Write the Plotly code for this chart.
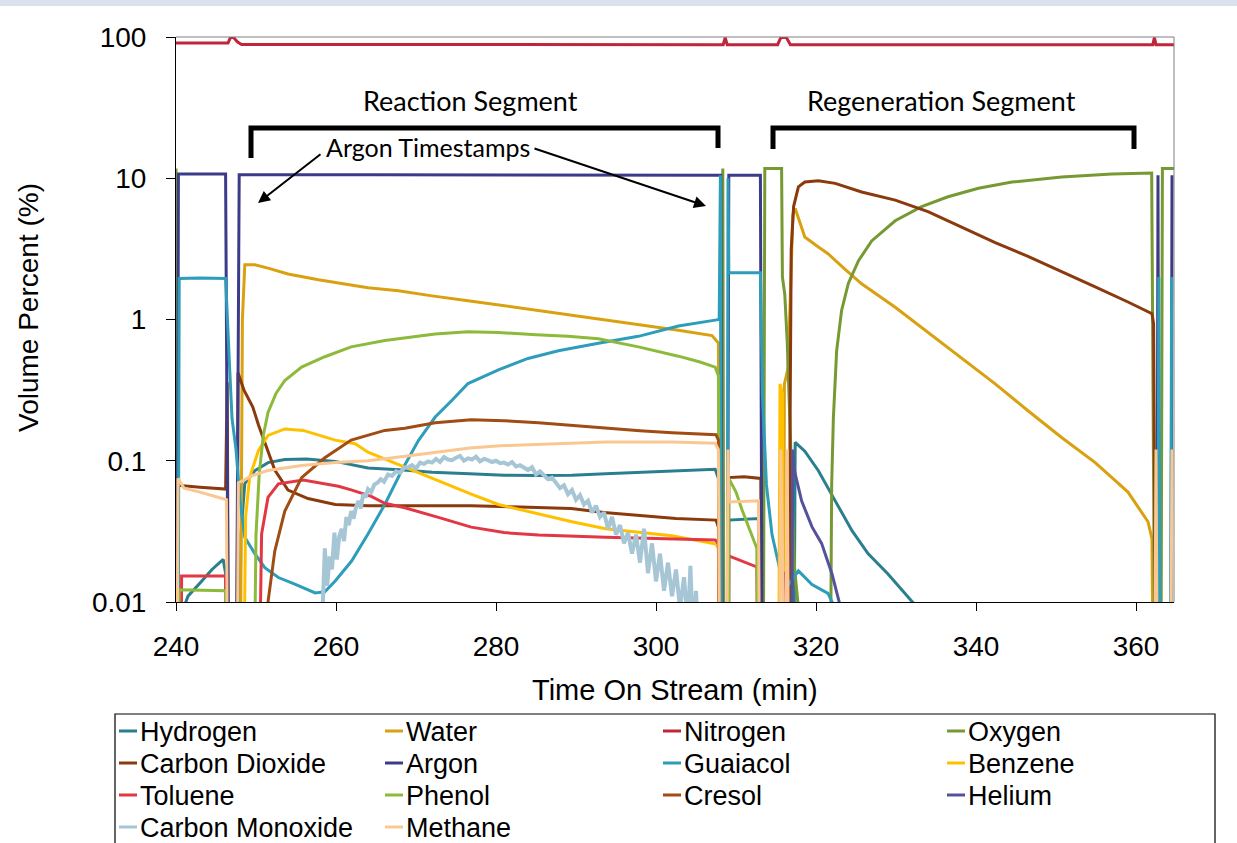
import plotly.graph_objects as go

# ---------------- data ----------------
t_hydrogen = [240.6, 241.5, 243.2, 244.5, 245.9, 246.2, 246.4, 247.9, 248.1, 248.6, 249.85, 251.5, 253.6, 256.3,
              259.9, 264.0, 268.4, 272.0, 276.7, 281.0, 285.3, 289.5, 293.7, 298.0, 302.0, 307.4, 307.8, 308.0,
              309.05, 309.1, 312.8, 313.0, 317.2, 317.4, 318.6, 320.3, 322.4, 324.5, 326.5, 329.0, 332.4]
v_hydrogen = [0.008, 0.011, 0.014, 0.017, 0.020, 0.016, 0.001, 0.001, 0.03, 0.069, 0.085, 0.097, 0.102, 0.103,
              0.099, 0.089, 0.086, 0.083, 0.081, 0.079, 0.0785, 0.079, 0.081, 0.083, 0.085, 0.087, 0.075, 0.001,
              0.001, 0.038, 0.039, 0.001, 0.001, 0.135, 0.117, 0.085, 0.052, 0.032, 0.022, 0.0158, 0.0095]

t_water = [248.0, 248.3, 248.6, 249.85, 251.5, 254.0, 257.8, 264.0, 267.8, 272.0, 276.5, 280.3, 284.0, 287.8,
           292.8, 297.8, 302.8, 307.0, 307.8, 308.0, 315.9, 316.05, 316.5, 316.8, 317.1, 317.4, 318.6, 320.3,
           321.5, 323.5, 325.7, 329.9, 334.0, 338.2, 342.4, 346.5, 350.7, 354.9, 359.0, 361.5, 362.0, 362.2]
v_water = [0.001, 1.0, 2.44, 2.44, 2.31, 2.1, 1.91, 1.68, 1.6, 1.47, 1.36, 1.27, 1.19, 1.11,
           1.01, 0.92, 0.84, 0.77, 0.68, 0.001, 0.001, 0.35, 0.45, 1.5, 5.5, 6.1, 3.84, 3.26,
           2.92, 2.3, 1.79, 1.22, 0.81, 0.54, 0.35, 0.226, 0.146, 0.097, 0.06, 0.037, 0.028, 0.001]

t_nitrogen = [240.0, 246.5, 246.8, 247.2, 247.7, 248.2, 308.4, 308.65, 308.9, 315.2, 315.6, 316.3, 316.8,
              362.1, 362.3, 362.5, 364.75]
v_nitrogen = [90.5, 90.5, 99, 99, 92, 88.5, 88.3, 99, 88.3, 88.3, 99, 99, 88.3,
              88.3, 99, 88.3, 88.3]

t_oxygen = [240.0, 240.2, 308.2, 308.35, 308.5, 313.4, 313.6, 315.7, 315.8, 316.1, 316.4, 316.9, 317.3, 317.8,
            321.75, 321.96, 322.17, 322.58, 323.2, 324.04, 325.3, 326.96, 329.9, 333.2, 336.5, 340.3, 344.5,
            350.7, 357.0, 361.96, 362.4, 363.1, 363.3, 364.75]
v_oxygen = [11.7, 0.001, 0.001, 11.7, 0.001, 0.001, 11.7, 11.7, 2.0, 1.5, 0.7, 0.1, 0.018, 0.009,
            0.001, 0.068, 0.2, 0.6, 1.16, 1.8, 2.6, 3.6, 5.0, 6.3, 7.4, 8.5, 9.4,
            10.2, 10.7, 10.9, 0.001, 0.001, 11.7, 11.7]

t_co2 = [240.15, 240.3, 243.0, 246.2, 246.4, 246.6, 247.6, 247.75, 248.5, 249.6, 250.3, 251.1, 252.35, 254.0,
         256.5, 259.9, 264.0, 270.0, 276.9, 283.0, 289.4, 293.5, 297.8, 302.5, 307.5, 307.8, 308.0, 309.05,
         309.1, 311.0, 313.1, 313.2, 316.7, 316.75, 316.9, 317.2, 317.8, 318.6, 320.3, 322.4, 325.7, 329.9,
         334.0, 338.2, 342.4, 346.5, 350.7, 354.9, 359.0, 362.0, 362.2, 362.5]
v_co2 = [0.001, 0.067, 0.065, 0.063, 0.36, 0.001, 0.001, 0.42, 0.316, 0.24, 0.18, 0.133, 0.086, 0.062,
         0.054, 0.049, 0.048, 0.048, 0.048, 0.047, 0.046, 0.043, 0.041, 0.039, 0.038, 0.034, 0.001, 0.001,
         0.076, 0.077, 0.075, 0.001, 0.001, 0.15, 3.1, 6.3, 8.7, 9.4, 9.6, 9.2, 8.0, 7.0,
         5.8, 4.5, 3.5, 2.8, 2.17, 1.7, 1.33, 1.1, 0.93, 0.001]

t_argon = [240.15, 240.3, 246.2, 246.6, 247.5, 247.9, 265.0, 285.0, 308.1, 308.3, 308.9, 309.1, 313.05, 313.3,
           362.6, 362.75, 362.9, 364.35, 364.5]
v_argon = [0.001, 10.7, 10.7, 0.001, 0.001, 10.6, 10.6, 10.6, 10.5, 0.001, 0.001, 10.5, 10.5, 0.001,
           0.001, 10.5, 0.001, 0.001, 10.5]

t_guaiacol = [240.25, 240.4, 243.0, 246.2, 246.7, 247.0, 247.5, 248.0, 248.6, 249.85, 251.1, 252.8, 254.85,
              257.4, 258.6, 259.9, 261.95, 264.0, 266.1, 268.2, 270.3, 272.4, 274.5, 276.5, 280.3, 284.0,
              287.8, 292.8, 297.8, 302.8, 307.4, 307.9, 308.05, 308.2, 308.9, 309.0, 309.1, 313.05, 313.3,
              313.8, 314.5, 315.3, 315.7, 316.0, 317.8, 319.5, 321.5, 322.2, 362.7, 362.85, 363.05, 364.3, 364.45]
v_guaiacol = [0.001, 1.95, 1.97, 1.95, 0.46, 0.2, 0.12, 0.053, 0.0287, 0.022, 0.0175, 0.0149, 0.0134,
              0.0116, 0.0118, 0.0141, 0.0195, 0.0303, 0.049, 0.085, 0.139, 0.204, 0.268, 0.352, 0.44, 0.53,
              0.6, 0.68, 0.76, 0.9, 0.99, 1.0, 10.5, 0.001, 0.001, 10.0, 2.14, 2.14, 0.3,
              0.068, 0.03, 0.0195, 0.015, 0.012, 0.0166, 0.0133, 0.0115, 0.0095, 0.001, 2.0, 0.001, 0.001, 2.0]

t_benzene = [248.4, 248.7, 249.2, 250.3, 251.5, 253.6, 255.9, 259.9, 262.4, 264.0, 268.6, 272.8, 276.9, 280.3,
             285.3, 289.5, 293.7, 298.0, 302.0, 307.5, 307.8, 308.0, 315.3, 315.5, 315.8, 316.0]
v_benzene = [0.001, 0.04, 0.076, 0.118, 0.151, 0.168, 0.164, 0.14, 0.132, 0.115, 0.09, 0.072, 0.058, 0.049,
             0.042, 0.037, 0.033, 0.031, 0.0294, 0.0257, 0.024, 0.001, 0.001, 0.35, 0.3, 0.001]

t_toluene = [240.6, 240.7, 246.2, 246.35, 250.3, 250.7, 251.5, 252.8, 255.9, 258.6, 260.3, 262.0, 264.4, 266.1,
             268.6, 272.8, 276.9, 281.0, 285.3, 293.7, 302.0, 307.4, 307.8, 308.0, 309.05, 309.1, 312.6, 312.8,
             315.9, 316.0, 316.2, 316.3]
v_toluene = [0.001, 0.0153, 0.0153, 0.001, 0.001, 0.0303, 0.055, 0.0686, 0.073, 0.0686, 0.066, 0.062, 0.056, 0.05,
             0.0465, 0.0397, 0.0339, 0.031, 0.0298, 0.0287, 0.028, 0.0275, 0.026, 0.001, 0.001, 0.0212, 0.0177, 0.001,
             0.001, 0.016, 0.016, 0.001]

t_phenol = [240.3, 240.4, 246.2, 246.3, 249.7, 250.0, 250.4, 250.9, 251.5, 252.5, 253.6, 255.7, 258.6, 261.9,
            266.1, 272.4, 276.5, 280.3, 285.0, 289.0, 292.8, 297.8, 302.8, 305.5, 307.4, 307.8, 308.0, 309.05,
            309.1, 310.0, 310.75, 311.7, 312.6, 312.8]
v_phenol = [0.001, 0.0122, 0.012, 0.001, 0.001, 0.03, 0.08, 0.15, 0.22, 0.3, 0.37, 0.46, 0.545, 0.64,
            0.71, 0.79, 0.82, 0.81, 0.78, 0.76, 0.73, 0.64, 0.55, 0.5, 0.46, 0.4, 0.001, 0.001,
            0.075, 0.06, 0.045, 0.033, 0.024, 0.001]

t_cresol = [251.3, 251.5, 252.35, 253.6, 255.7, 258.6, 261.9, 266.1, 268.6, 272.4, 276.9, 281.0, 285.3, 289.5,
            293.7, 298.0, 302.0, 307.5, 307.8, 308.0]
v_cresol = [0.001, 0.01, 0.023, 0.044, 0.076, 0.105, 0.14, 0.164, 0.17, 0.186, 0.195, 0.192, 0.186, 0.178,
            0.17, 0.163, 0.158, 0.153, 0.14, 0.001]

t_helium = [316.9, 317.1, 317.2, 318.2, 319.5, 320.7, 322.0, 323.0]
v_helium = [0.001, 0.12, 0.09, 0.052, 0.034, 0.026, 0.0158, 0.0095]

t_co = [258.3, 258.6, 258.9, 259.2, 259.5, 259.8, 260.1, 260.4, 260.7, 261.0, 261.3, 261.6, 261.9, 262.2, 262.5,
        262.8, 263.1, 263.4, 263.7, 264.0, 264.4, 264.8, 265.2, 265.6, 266.0, 266.5, 267.0, 267.5, 268.0, 268.5,
        269.0, 269.5, 270.0, 270.5, 271.0, 271.5, 272.0, 272.5, 273.0, 273.5, 274.0, 274.5, 275.0, 275.5, 276.0,
        276.5, 277.0, 277.5, 278.0, 278.5, 279.0, 279.5, 280.0, 280.5, 281.0, 281.5, 282.0, 282.5, 283.0, 283.5,
        284.0, 284.5, 285.0, 285.5, 286.0, 286.5, 287.0, 287.5, 288.0, 288.5, 289.0, 289.5, 290.0, 290.5, 291.0,
        291.5, 292.0, 292.5, 293.0, 293.5, 294.0, 294.5, 295.0, 295.5, 296.0, 296.5, 297.0, 297.5, 298.0, 298.5,
        299.0, 299.5, 300.0, 300.5, 301.0, 301.5, 302.0, 302.5, 303.0, 303.5, 304.0, 304.3, 304.6, 305.0, 305.3]
v_co = [0.008, 0.024, 0.013, 0.021, 0.017, 0.031, 0.02, 0.029, 0.033, 0.027, 0.04, 0.035, 0.044, 0.039, 0.047,
        0.052, 0.046, 0.058, 0.055, 0.063, 0.06, 0.068, 0.07, 0.074, 0.071, 0.08, 0.078, 0.084, 0.082, 0.089,
        0.09, 0.093, 0.088, 0.097, 0.095, 0.099, 0.097, 0.103, 0.098, 0.106, 0.102, 0.101, 0.105, 0.108, 0.1,
        0.104, 0.102, 0.107, 0.099, 0.103, 0.101, 0.098, 0.1, 0.096, 0.097, 0.094, 0.098, 0.091, 0.093, 0.089,
        0.086, 0.09, 0.08, 0.084, 0.079, 0.074, 0.076, 0.07, 0.064, 0.067, 0.058, 0.062, 0.053, 0.057, 0.049,
        0.052, 0.043, 0.048, 0.04, 0.043, 0.033, 0.04, 0.03, 0.035, 0.026, 0.031, 0.022, 0.03, 0.019, 0.033,
        0.016, 0.026, 0.014, 0.022, 0.012, 0.019, 0.011, 0.017, 0.009, 0.015, 0.007, 0.018, 0.006, 0.012, 0.005]

t_methane = [240.1, 240.25, 241.0, 243.0, 246.3, 246.5, 247.6, 247.8, 248.5, 249.4, 251.5, 255.7, 259.9, 264.0,
             268.4, 272.5, 276.7, 281.0, 285.3, 293.7, 302.0, 307.4, 307.8, 308.0, 308.8, 309.0, 309.1, 312.8,
             313.0, 315.4, 315.6, 315.9, 316.2, 316.4, 316.6, 362.3, 362.5, 362.7, 364.3, 364.5]
v_methane = [0.001, 0.075, 0.064, 0.06, 0.053, 0.001, 0.001, 0.07, 0.073, 0.078, 0.0854, 0.0927, 0.097, 0.1,
             0.107, 0.115, 0.123, 0.128, 0.131, 0.136, 0.136, 0.133, 0.12, 0.001, 0.001, 0.12, 0.051, 0.052,
             0.001, 0.001, 0.12, 0.001, 0.001, 0.12, 0.001, 0.001, 0.12, 0.001, 0.001, 0.12]

series_names = ["Hydrogen", "Water", "Nitrogen", "Oxygen", "Carbon Dioxide", "Argon", "Guaiacol", "Benzene",
                "Toluene", "Phenol", "Cresol", "Helium", "Carbon Monoxide", "Methane"]
series_times = [t_hydrogen, t_water, t_nitrogen, t_oxygen, t_co2, t_argon, t_guaiacol, t_benzene,
                t_toluene, t_phenol, t_cresol, t_helium, t_co, t_methane]
series_values = [v_hydrogen, v_water, v_nitrogen, v_oxygen, v_co2, v_argon, v_guaiacol, v_benzene,
                 v_toluene, v_phenol, v_cresol, v_helium, v_co, v_methane]

x_ticks = [240, 260, 280, 300, 320, 340, 360]
y_ticks = [0.01, 0.1, 1, 10, 100]
y_tick_labels = ["0.01", "0.1", "1", "10", "100"]

# ---------------- styles ----------------
colors = {
    "Hydrogen": "#2A7F8E", "Water": "#D9A010", "Nitrogen": "#C0263A", "Oxygen": "#779933",
    "Carbon Dioxide": "#8B3A0E", "Argon": "#3B3B8A", "Guaiacol": "#2E9DBA", "Benzene": "#FFC000",
    "Toluene": "#E23845", "Phenol": "#8DBA3A", "Cresol": "#A04C12", "Helium": "#55529C",
    "Carbon Monoxide": "#A6C6D6", "Methane": "#FAC792",
}
widths = {"Carbon Monoxide": 4}

W, H = 1237, 843
L, R, T, B = 176, 1174, 37, 602


def PX(px):
    return (px - L) / (R - L)


def PY(py):
    return (B - py) / (B - T)


fig = go.Figure()
for name, tx, vy in zip(series_names, series_times, series_values):
    fig.add_trace(go.Scatter(x=tx, y=vy, mode="lines", name=name, showlegend=False,
                             line=dict(color=colors[name], width=widths.get(name, 3))))

FONT = "Liberation Sans, Arial, sans-serif"
NOTE_FONT = "Lato, Carlito, sans-serif"

shapes = []
annotations = []


def label(text, px, py, size, family=FONT, angle=0, xanchor="center"):
    return dict(text=text, xref="paper", yref="paper", x=PX(px), y=PY(py), xanchor=xanchor,
                yanchor="middle", showarrow=False, textangle=angle,
                font=dict(family=family, size=size, color="black"))


# top band of the page
shapes.append(dict(type="rect", xref="paper", yref="paper", x0=PX(0), x1=PX(W), y0=PY(6), y1=PY(0),
                   fillcolor="#DCE1F0", line=dict(width=0), layer="below"))
# grey top/right frame
shapes.append(dict(type="line", xref="paper", yref="paper", x0=0, x1=1, y0=1, y1=1,
                   line=dict(color="#7F7F7F", width=1)))
shapes.append(dict(type="line", xref="paper", yref="paper", x0=1, x1=1, y0=0, y1=1,
                   line=dict(color="#7F7F7F", width=1)))


def bracket(x0, x1, ytop, yl, yr):
    return dict(type="path", xref="paper", yref="paper",
                path=f"M {PX(x0)},{PY(yl)} L {PX(x0)},{PY(ytop)} L {PX(x1)},{PY(ytop)} L {PX(x1)},{PY(yr)}",
                line=dict(color="black", width=5))


shapes.append(bracket(251, 718, 128, 158, 148))
shapes.append(bracket(773, 1134, 128, 149, 149))

annotations.append(label("Reaction Segment", 470, 100, 27, NOTE_FONT))
annotations.append(label("Regeneration Segment", 941, 100, 27, NOTE_FONT))
annotations.append(label("Argon Timestamps", 428, 147, 25, NOTE_FONT))
# arrows
for (hx, hy, tx_, ty_) in [(258, 203, 322, 153), (706, 206, 533, 148)]:
    annotations.append(dict(text="", xref="paper", yref="paper", x=PX(hx), y=PY(hy),
                            ax=tx_ - hx, ay=ty_ - hy, showarrow=True, arrowhead=2, arrowsize=1.2,
                            arrowwidth=2, arrowcolor="black"))

# axis titles
annotations.append(label("Time On Stream (min)", 675, 690, 29))
annotations.append(label("Volume Percent (%)", 28, 308, 28, angle=-90))

# legend box and entries
shapes.append(dict(type="rect", xref="paper", yref="paper", x0=PX(115), x1=PX(1215), y0=PY(860), y1=PY(714),
                   line=dict(color="black", width=1.2), fillcolor="white", layer="below"))
col_x = [119, 385, 663, 947]
row_y = [731, 763, 795, 827]
for i, name in enumerate(series_names):
    r, c = divmod(i, 4)
    x0 = col_x[c]
    y0 = row_y[r]
    shapes.append(dict(type="line", xref="paper", yref="paper", x0=PX(x0), x1=PX(x0 + 18), y0=PY(y0), y1=PY(y0),
                       line=dict(color=colors[name], width=3)))
    annotations.append(label(name, x0 + 19, y0 + 1, 27, xanchor="left"))

fig.update_layout(
    width=W, height=H,
    margin=dict(l=L, r=W - R, t=T, b=H - B, pad=0),
    paper_bgcolor="white", plot_bgcolor="white",
    shapes=shapes, annotations=annotations,
    showlegend=False,
    xaxis=dict(range=[240, 364.75], tickvals=x_ticks, ticks="outside", ticklen=8, tickcolor="black",
               showline=True, linecolor="black", linewidth=1, showgrid=False, zeroline=False,
               tickfont=dict(family=FONT, size=28, color="black"), ticklabelstandoff=11),
    yaxis=dict(type="log", range=[-2, 2], tickvals=y_ticks, ticktext=y_tick_labels, ticks="outside",
               ticklen=9, tickcolor="black", showline=True, linecolor="black", linewidth=1,
               showgrid=False, zeroline=False,
               tickfont=dict(family=FONT, size=28, color="black"), ticklabelstandoff=14),
)

fig.write_html("out.html")
